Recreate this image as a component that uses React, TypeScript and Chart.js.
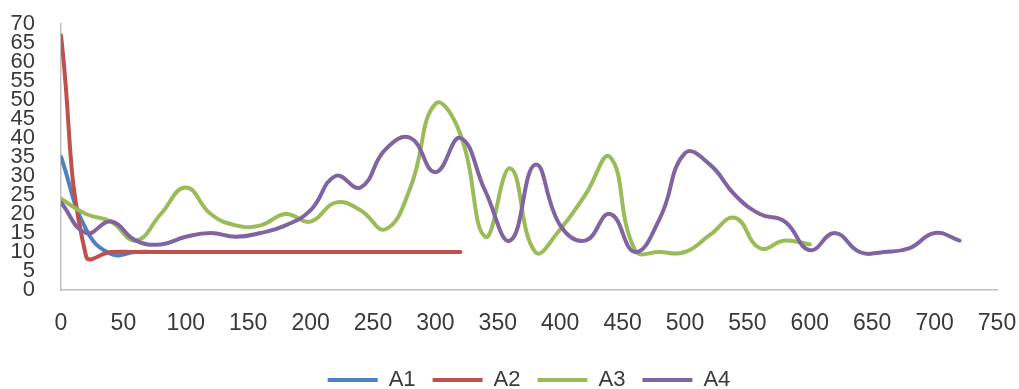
import React, { useEffect, useRef } from "react";
import { Chart, registerables } from "chart.js";

Chart.register(...registerables);

const seriesNames = ["A1", "A2", "A3", "A4"];

const a1X = [0, 20, 40, 60, 80, 100, 120, 140, 160, 180, 200, 220, 240, 260, 280, 300];
const a1Y = [35, 16, 9.5, 10, 10, 10, 10, 10, 10, 10, 10, 10, 10, 10, 10, 10];

const a2X = [0, 20, 40, 60, 80, 100, 120, 140, 160, 180, 200, 220, 240, 260, 280, 300, 320];
const a2Y = [67, 9, 10, 10, 10, 10, 10, 10, 10, 10, 10, 10, 10, 10, 10, 10, 10];

const a3X = [0, 20, 40, 60, 80, 100, 120, 140, 160, 180, 200, 220, 240, 260, 280, 300, 320, 340, 360, 380, 400, 420, 440, 460, 480, 500, 520, 540, 560, 580, 600];
const a3Y = [24, 20, 18, 13, 20, 27, 20, 17, 17, 20, 18, 23, 21, 16, 27, 49, 41, 14, 32, 10, 16, 25, 35, 10.5, 10, 10, 14.5, 19, 11, 13, 12];

const a4X = [0, 20, 40, 60, 80, 100, 120, 140, 160, 180, 200, 220, 240, 260, 280, 300, 320, 340, 360, 380, 400, 420, 440, 460, 480, 500, 520, 540, 560, 580, 600, 620, 640, 660, 680, 700, 720];
const a4Y = [23, 15, 18, 13, 12, 14, 15, 14, 15, 17, 21, 30, 27, 37, 40, 31, 40, 26, 13, 33, 17, 13, 20, 10, 19, 36, 33, 25, 20, 18, 10.5, 15, 10, 10, 11, 15, 13];

const seriesX = [a1X, a2X, a3X, a4X];
const seriesY = [a1Y, a2Y, a3Y, a4Y];
const seriesColors = ["#4F81BD", "#C0504D", "#9BBB59", "#8064A2"];

const xMin = 0;
const xMax = 750;
const xStep = 50;
const yMin = 0;
const yMax = 70;
const yStep = 5;

const FONT = "'Liberation Sans Narrow', 'Liberation Sans', Arial, sans-serif";

export default function App() {
  const canvasRef = useRef<HTMLCanvasElement | null>(null);

  useEffect(() => {
    document.body.style.margin = "0";
    const canvas = canvasRef.current;
    if (!canvas) return;

    const datasets = seriesNames.map((name, i) => ({
      label: name,
      data: seriesX[i].map((x, j) => ({ x, y: seriesY[i][j] })),
      borderColor: seriesColors[i],
      backgroundColor: seriesColors[i],
      borderWidth: 4,
      borderCapStyle: "round" as const,
      borderJoinStyle: "round" as const,
      pointRadius: 0,
      pointHoverRadius: 0,
      pointStyle: "line" as const,
      tension: 0.45,
      fill: false,
      order: 4 - i,
    }));

    const chart = new Chart(canvas, {
      type: "line",
      data: { datasets },
      options: {
        animation: false,
        responsive: false,
        maintainAspectRatio: false,
        layout: { padding: { left: 8, top: 24, right: 22, bottom: -12 } },
        plugins: {
          tooltip: { enabled: false },
          legend: {
            position: "bottom",
            fullSize: false,
            labels: {
              usePointStyle: true,
              pointStyle: "line",
              pointStyleWidth: 50,
              boxHeight: 4,
              padding: 17,
              color: "#3a3a3a",
              font: { family: FONT, size: 22 },
              sort: (a: any, b: any) => a.datasetIndex - b.datasetIndex,
            },
          },
        },
        scales: {
          x: {
            type: "linear",
            min: xMin,
            max: xMax,
            afterFit: (scale: any) => {
              scale.height = 62;
              scale.paddingLeft = 0;
              scale.paddingRight = 0;
            },
            grid: { display: false, drawTicks: false },
            border: { display: true, color: "#BFBFBF", width: 1.5 },
            ticks: {
              stepSize: xStep,
              autoSkip: false,
              maxRotation: 0,
              padding: 20,
              color: "#3a3a3a",
              font: { family: FONT, size: 23 },
            },
          },
          y: {
            type: "linear",
            min: yMin,
            max: yMax,
            afterFit: (scale: any) => {
              scale.width = 53;
              scale.paddingTop = 0;
              scale.paddingBottom = 0;
            },
            grid: { display: false, drawTicks: false },
            border: { display: true, color: "#BFBFBF", width: 1.5 },
            ticks: {
              stepSize: yStep,
              autoSkip: false,
              padding: 26,
              color: "#3a3a3a",
              font: { family: FONT, size: 22 },
            },
          },
        },
      },
    });

    return () => chart.destroy();
  }, []);

  return (
    <div style={{ width: 1019, height: 389 }}>
      <canvas ref={canvasRef} width={1019} height={389} style={{ display: "block" }} />
    </div>
  );
}
